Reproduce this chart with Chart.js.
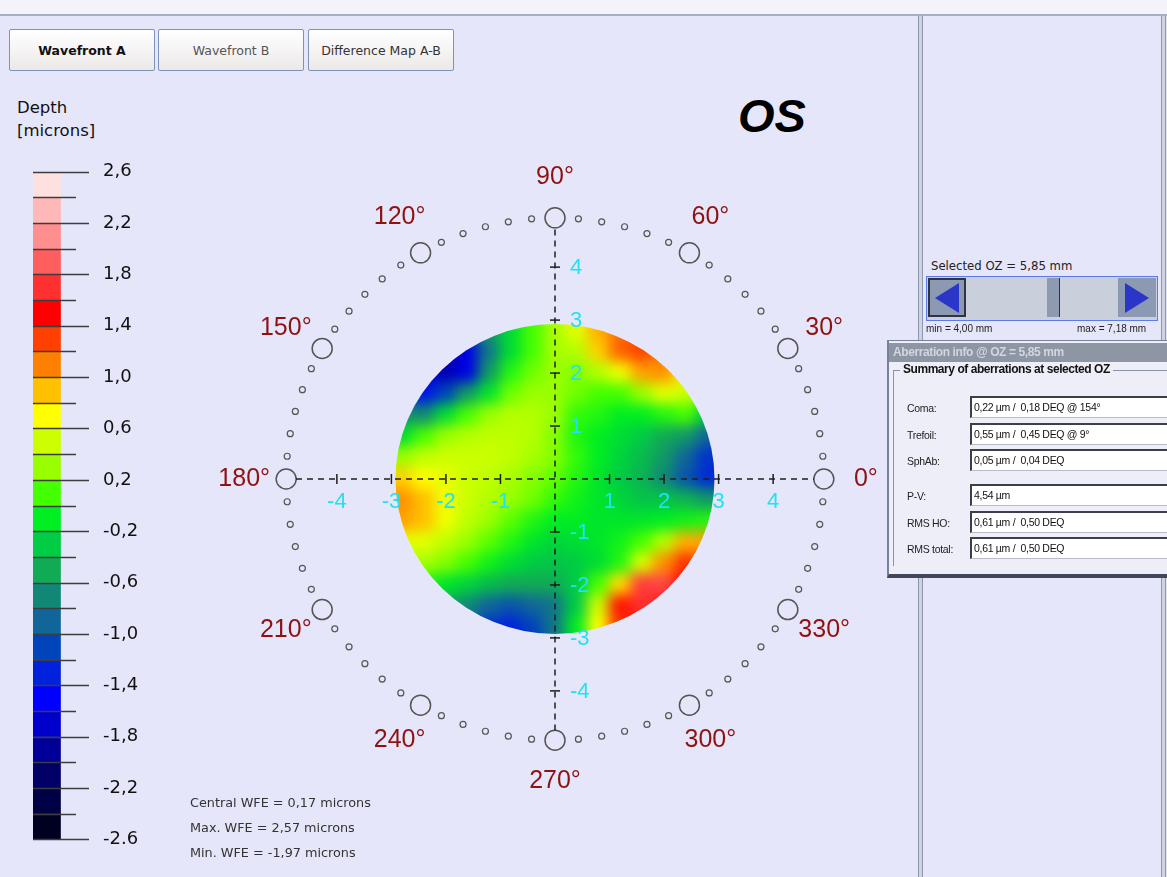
<!DOCTYPE html>
<html>
<head>
<meta charset="utf-8">
<title>Wavefront A</title>
<script src="https://cdn.jsdelivr.net/npm/chart.js@4.4.1/dist/chart.umd.min.js"></script>
<style>
  html, body { margin: 0; padding: 0; }
  body { width: 1167px; height: 877px; background: #E6E6FA; position: relative; overflow: hidden;
         font-family: 'DejaVu Sans', sans-serif; color: #222; }
  .abs { position: absolute; }
  .topband { left: 0; top: 0; width: 1167px; height: 14px; background: #F3F3FB; }
  .topline { left: 0; top: 14px; width: 1167px; height: 2px; background: #A6AEC2; }
  .divider { top: 16px; width: 3px; height: 861px; background: #CED3E0;
             border-left: 1px solid #8D97AE; border-right: 1px solid #8D97AE; }
  .tab { top: 29px; height: 40px; width: 144px; border: 1px solid #7F93B8; border-radius: 2px;
         background: linear-gradient(#FFFFFF, #ECE8E8); font-size: 12.5px; line-height: 41px;
         text-align: center; color: #333; }
  .depth { left: 17px; top: 96px; font-size: 16.5px; line-height: 23px; color: #111; }
  .os { left: 738px; top: 88px; font: italic bold 47px 'Liberation Sans', Arial, sans-serif; color: #000; }
  .stat { left: 190px; font-size: 12.8px; color: #333; }
  .wrap { left: 206px; top: 140px; width: 698px; height: 678px; }
  .mapwrap canvas { filter: blur(7px); }
  .small { font-family: 'Liberation Sans', Arial, sans-serif; }
  .field { left: 970px; width: 200px; height: 19px; background: #FFFFFF;
           border-top: 2px solid #3A3F4A; border-left: 2px solid #3A3F4A; border-bottom: 1px solid #B8BCC8;
           font: 10.5px 'Liberation Sans', Arial, sans-serif; letter-spacing: -0.3px; line-height: 19px;
           padding-left: 2px; color: #111; box-sizing: content-box; }
  .lab { left: 907px; font: 10.5px 'Liberation Sans', Arial, sans-serif; letter-spacing: -0.3px; color: #222; }
</style>
</head>
<body>
<div class="abs topband"></div>
<div class="abs topline"></div>
<div class="abs divider" style="left:918px"></div>
<div class="abs divider" style="left:1161px"></div>

<div class="abs tab" style="left:9px; font-weight:bold; color:#111;">Wavefront A</div>
<div class="abs tab" style="left:158px; color:#555;">Wavefront B</div>
<div class="abs tab" style="left:308px;">Difference Map A-B</div>

<div class="abs depth">Depth<br>[microns]</div>
<div class="abs os">OS</div>

<canvas id="depthBar" class="abs" style="left:0; top:146px;" width="170" height="719"></canvas>

<div id="mapWrap" class="abs wrap mapwrap"><canvas id="mapChart" width="698" height="678"></canvas></div>
<div class="abs wrap"><canvas id="overlayChart" width="698" height="678"></canvas></div>

<div class="abs stat" style="top:795px;">Central WFE = 0,17 microns</div>
<div class="abs stat" style="top:820px;">Max. WFE = 2,57 microns</div>
<div class="abs stat" style="top:845px;">Min. WFE = -1,97 microns</div>

<!-- optical zone selector -->
<div class="abs" style="left:931px; top:259px; font-size:11.7px; color:#222;">Selected OZ = 5,85 mm</div>
<div class="abs" style="left:926px; top:276px; width:230px; height:43px; border:1px solid #5C7BE8; background:#C9D0DC;"></div>
<div class="abs" style="left:928px; top:278px; width:38px; height:39px; background:#8B9AB2; box-sizing:border-box; border:2px solid #2E3440;"></div>
<div class="abs" style="left:935px; top:283px; width:0; height:0; border-top:15px solid transparent; border-bottom:15px solid transparent; border-right:24px solid #2A36C8;"></div>
<div class="abs" style="left:1047px; top:278px; width:12px; height:39px; background:#8D9AB0; border-right:1px solid #333;"></div>
<div class="abs" style="left:1118px; top:278px; width:38px; height:39px; background:#8B9AB2;"></div>
<div class="abs" style="left:1125px; top:283px; width:0; height:0; border-top:15px solid transparent; border-bottom:15px solid transparent; border-left:24px solid #2A36C8;"></div>
<div class="abs small" style="left:926px; top:323px; font-size:10px; color:#222;">min = 4,00 mm</div>
<div class="abs small" style="left:1077px; top:323px; font-size:10px; color:#222;">max = 7,18 mm</div>

<!-- aberration summary box -->
<div class="abs" style="left:887px; top:340px; width:290px; height:233px; background:#EEEEF8; border-left:2px solid #77819A; border-top:1px solid #77819A; border-bottom:4px solid #3F4758;"></div>
<div class="abs" style="left:889px; top:343px; width:290px; height:19px; background:#8E96A6;"></div>
<div class="abs small" style="left:893px; top:345px; font-size:12px; font-weight:bold; color:#D2D6E0; letter-spacing:-0.4px;">Aberration info @ OZ = 5,85 mm</div>
<div class="abs" style="left:893px; top:370px; width:290px; height:195px; border-left:1px solid #8A92A4; border-top:1px solid #8A92A4;"></div>
<div class="abs small" style="left:900px; top:362px; font-size:12px; font-weight:bold; color:#111; background:#EEEEF8; padding:0 3px; letter-spacing:-0.45px;">Summary of aberrations at selected OZ</div>

<div class="abs lab" style="top:402px;">Coma:</div>
<div class="abs lab" style="top:429px;">Trefoil:</div>
<div class="abs lab" style="top:455px;">SphAb:</div>
<div class="abs lab" style="top:490px;">P-V:</div>
<div class="abs lab" style="top:517px;">RMS HO:</div>
<div class="abs lab" style="top:543px;">RMS total:</div>
<div class="abs field" style="top:396px;">0,22 µm /&nbsp; 0,18 DEQ @ 154°</div>
<div class="abs field" style="top:423px;">0,55 µm /&nbsp; 0,45 DEQ @ 9°</div>
<div class="abs field" style="top:449px;">0,05 µm /&nbsp; 0,04 DEQ</div>
<div class="abs field" style="top:484px;">4,54 µm</div>
<div class="abs field" style="top:511px;">0,61 µm /&nbsp; 0,50 DEQ</div>
<div class="abs field" style="top:537px;">0,61 µm /&nbsp; 0,50 DEQ</div>

<script>
// ---- colour scale (depth in microns), top segment first ----
const depthTop = 2.6;
const depthBottom = -2.6;
const depthStep = 0.2;
const depthColors = [
  '#FFE0E0', '#FFB8B8', '#FF8E8E', '#FF5E5E', '#FF3030', '#FF0000', '#FF4000',
  '#FF8000', '#FFC000', '#FFFF00', '#CCFF00', '#99FF00', '#44FF00', '#00EE22',
  '#00CC44', '#11AA55', '#118877', '#116699', '#0044BB', '#0022DD', '#0000FF',
  '#0000CC', '#000099', '#000066', '#000044', '#000022'
];
const depthTickValues = [2.6, 2.2, 1.8, 1.4, 1.0, 0.6, 0.2, -0.2, -0.6, -1.0, -1.4, -1.8, -2.2, -2.6];
const depthTickLabels = ['2,6', '2,2', '1,8', '1,4', '1,0', '0,6', '0,2', '-0,2', '-0,6', '-1,0', '-1,4', '-1,8', '-2,2', '-2.6'];

// ---- wavefront samples (microns) on a 0.4 mm grid ----
const gridU = [-3.2, -2.8, -2.4, -2.0, -1.6, -1.2, -0.8, -0.4, 0, 0.4, 0.8, 1.2, 1.6, 2.0, 2.4, 2.8, 3.2];
const gridV = [3.2, 2.8, 2.4, 2.0, 1.6, 1.2, 0.8, 0.4, 0, -0.4, -0.8, -1.2, -1.6, -2.0, -2.4, -2.8, -3.2];
const wavefront = [
  [-1.6, -1.7, -1.5, -1.1, -0.8, -0.5, -0.1, 0.1, 0.4, 0.6, 0.8, 1.05, 1.15, 1.1, 0.9, 0.8, 0.6],
  [-1.6, -1.7, -1.8, -1.4, -1.0, -0.6, -0.2, 0.1, 0.35, 0.6, 0.95, 1.15, 1.25, 1.1, 0.9, 0.7, 0.6],
  [-1.4, -1.5, -1.7, -1.85, -1.6, -0.8, -0.2, 0.1, 0.35, 0.4, 0.85, 1.2, 1.3, 1.1, 0.85, 0.6, 0.4],
  [-1.2, -1.4, -1.6, -1.8, -1.6, -0.6, 0.0, 0.2, 0.3, 0.25, 0.4, 0.65, 1.0, 1.05, 0.75, 0.5, 0.3],
  [-0.9, -1.1, -1.4, -1.1, -0.6, -0.15, 0.2, 0.3, 0.3, 0.2, 0.1, 0.1, 0.3, 0.6, 0.5, 0.3, 0.1],
  [-0.4, -0.6, -0.7, -0.2, 0.1, 0.3, 0.4, 0.4, 0.3, 0.05, 0.0, -0.1, -0.1, 0.0, 0.1, -0.3, -0.3],
  [-0.2, -0.2, 0.1, 0.3, 0.4, 0.45, 0.45, 0.4, 0.25, 0.0, -0.1, -0.2, -0.3, -0.5, -0.6, -0.9, -0.9],
  [0.4, 0.3, 0.45, 0.5, 0.5, 0.5, 0.45, 0.35, 0.25, 0.05, -0.1, -0.25, -0.4, -0.6, -0.9, -1.2, -1.2],
  [0.85, 0.85, 0.7, 0.6, 0.5, 0.45, 0.35, 0.25, 0.17, 0.0, -0.15, -0.3, -0.45, -0.7, -1.0, -1.25, -1.25],
  [1.1, 1.05, 0.9, 0.65, 0.5, 0.4, 0.3, 0.2, 0.05, -0.05, -0.15, -0.25, -0.35, -0.35, -0.45, -0.6, -0.6],
  [1.0, 1.0, 0.9, 0.65, 0.45, 0.3, 0.15, 0.0, -0.1, -0.1, -0.15, -0.15, -0.15, -0.1, -0.05, 0.0, 0.0],
  [0.5, 0.6, 0.6, 0.45, 0.3, 0.15, 0.0, -0.15, -0.25, -0.2, -0.15, -0.05, 0.1, 0.4, 0.95, 1.0, 0.9],
  [0.4, 0.3, 0.35, 0.25, 0.1, -0.05, -0.2, -0.3, -0.35, -0.3, -0.2, 0.0, 0.55, 1.05, 1.35, 1.2, 1.0],
  [0.2, 0.1, 0.0, -0.15, -0.25, -0.4, -0.5, -0.5, -0.5, -0.3, 0.1, 0.8, 1.75, 1.8, 1.5, 1.3, 1.0],
  [0.1, 0.0, -0.2, -0.5, -0.7, -0.9, -1.0, -0.9, -0.8, -0.3, 0.5, 1.45, 1.7, 1.6, 1.45, 1.3, 1.0],
  [-0.1, -0.2, -0.4, -0.6, -0.9, -1.2, -1.3, -1.1, -0.8, -0.1, 0.7, 1.35, 1.55, 1.5, 1.4, 1.2, 1.0],
  [-0.2, -0.4, -0.6, -0.8, -1.0, -1.2, -1.3, -1.2, -0.8, -0.2, 0.5, 1.2, 1.5, 1.5, 1.4, 1.3, 1.0]
];
const gridStep = 0.4;          // mm
const opticalZone = 5.85;      // mm, selected OZ diameter

// ---- polar frame ----
const rimRadius = 4.93;        // mm
const labelRadius = 5.7;       // mm
const angleLabels = [0, 30, 60, 90, 120, 150, 180, 210, 240, 270, 300, 330];
const axisTicks = [-4, -3, -2, -1, 1, 2, 3, 4];
const axisRange = 6.4;

// colour lookup: stops at the centre of each colour band
function hexToRgb(h) { return [parseInt(h.substr(1, 2), 16), parseInt(h.substr(3, 2), 16), parseInt(h.substr(5, 2), 16)]; }
const colorStops = depthColors.map((c, i) => ({ v: depthTop - depthStep * (i + 0.5), rgb: hexToRgb(c) }));
function depthColor(v) {
  if (v >= colorStops[0].v) return depthColors[0];
  const last = colorStops[colorStops.length - 1];
  if (v <= last.v) return depthColors[depthColors.length - 1];
  for (let i = 0; i < colorStops.length - 1; i++) {
    const a = colorStops[i], b = colorStops[i + 1];
    if (v <= a.v && v >= b.v) {
      const t = (a.v - v) / (a.v - b.v);
      const c = a.rgb.map((ch, k) => Math.round(ch + (b.rgb[k] - ch) * t));
      return `rgb(${c[0]},${c[1]},${c[2]})`;
    }
  }
  return depthColors[0];
}

const baseOptions = () => ({
  responsive: false,
  animation: false,
  events: [],
  layout: { padding: 0, autoPadding: false },
  plugins: { legend: { display: false }, tooltip: { enabled: false } },
  scales: {
    x: { type: 'linear', min: -axisRange, max: axisRange, display: false },
    y: { type: 'linear', min: -axisRange, max: axisRange, display: false }
  }
});

// ---- colour bar ----
const depthSegments = depthColors.map((c, i) => {
  const hi = depthTop - depthStep * i;
  return { lo: hi - depthStep, hi: hi, color: c };
});
const depthTickLines = {
  id: 'depthTickLines',
  afterDatasetsDraw(chart) {
    const { ctx, chartArea } = chart;
    const ys = chart.scales.y;
    const n = Math.round((depthTop - depthBottom) / depthStep);
    ctx.save();
    ctx.strokeStyle = '#3C3C3C';
    ctx.lineWidth = 1.5;
    for (let k = 0; k <= n; k++) {
      const y = Math.round(ys.getPixelForValue(depthTop - depthStep * k)) + 0.5;
      const len = (k % 2 === 0) ? 56 : 43;
      ctx.beginPath();
      ctx.moveTo(chartArea.left, y);
      ctx.lineTo(chartArea.left + len, y);
      ctx.stroke();
    }
    ctx.restore();
  }
};
new Chart(document.getElementById('depthBar'), {
  type: 'bar',
  data: {
    labels: ['', ' '],
    datasets: depthSegments.map(s => ({
      data: [[s.lo, s.hi], null],
      backgroundColor: s.color,
      borderWidth: 0,
      grouped: false,
      barPercentage: 1,
      categoryPercentage: 1
    }))
  },
  options: {
    responsive: false,
    animation: false,
    events: [],
    layout: { padding: { top: 0, bottom: 0, left: 33, right: 0 }, autoPadding: false },
    plugins: { legend: { display: false }, tooltip: { enabled: false } },
    scales: {
      x: { display: false },
      y: {
        position: 'right',
        min: depthBottom,
        max: depthTop,
        afterFit(s) { s.width = 82; },
        afterBuildTicks(s) { s.ticks = depthTickValues.map(v => ({ value: v })); },
        grid: { display: false, drawTicks: false },
        border: { display: false },
        ticks: {
          padding: 15,
          autoSkip: false,
          color: '#111',
          font: { family: 'DejaVu Sans', size: 18 },
          callback: (v, i) => depthTickLabels[i]
        }
      }
    }
  },
  plugins: [depthTickLines]
});

// ---- wavefront map (blurred, clipped to the optical zone) ----
const mapPoints = [];
gridV.forEach((v, i) => gridU.forEach((u, j) => mapPoints.push({ x: u, y: v, w: wavefront[i][j] })));

const zoneClip = {
  id: 'zoneClip',
  afterRender(chart) {
    const xs = chart.scales.x, ys = chart.scales.y;
    const r = opticalZone / 2;
    const cx = xs.getPixelForValue(0), cy = ys.getPixelForValue(0);
    const rx = xs.getPixelForValue(r) - cx, ry = cy - ys.getPixelForValue(r);
    document.getElementById('mapWrap').style.clipPath =
      `ellipse(${rx.toFixed(1)}px ${ry.toFixed(1)}px at ${cx.toFixed(1)}px ${cy.toFixed(1)}px)`;
  }
};
new Chart(document.getElementById('mapChart'), {
  type: 'scatter',
  data: {
    datasets: [{
      data: mapPoints,
      pointStyle: 'rect',
      pointBorderWidth: 0,
      pointRadius(ctx) {
        const xs = ctx.chart.scales.x, ys = ctx.chart.scales.y;
        const side = Math.max(xs.getPixelForValue(gridStep) - xs.getPixelForValue(0),
                              ys.getPixelForValue(0) - ys.getPixelForValue(gridStep)) + 1.5;
        return side / Math.SQRT2;
      },
      pointBackgroundColor(ctx) { return ctx.raw ? depthColor(ctx.raw.w) : '#000'; }
    }]
  },
  options: baseOptions(),
  plugins: [zoneClip]
});

// ---- polar frame, axes and labels ----
const rad = a => a * Math.PI / 180;
const rimMajor = angleLabels.map(a => ({ x: rimRadius * Math.cos(rad(a)), y: rimRadius * Math.sin(rad(a)) }));
const rimMinor = [];
for (let a = 0; a < 360; a += 5) {
  if (a % 30 !== 0) rimMinor.push({ x: rimRadius * Math.cos(rad(a)), y: rimRadius * Math.sin(rad(a)) });
}
const axisEnd = 4.75;

const frameLabels = {
  id: 'frameLabels',
  afterDraw(chart) {
    const { ctx } = chart;
    const xs = chart.scales.x, ys = chart.scales.y;
    ctx.save();
    // angle labels
    ctx.fillStyle = '#8E1212';
    ctx.font = "25px 'Liberation Sans', Arial, sans-serif";
    ctx.textAlign = 'center';
    ctx.textBaseline = 'middle';
    angleLabels.forEach(a => {
      const px = xs.getPixelForValue(labelRadius * Math.cos(rad(a)));
      const py = ys.getPixelForValue(labelRadius * Math.sin(rad(a)));
      ctx.fillText(a + '°', px, py);
    });
    // axis numbers
    ctx.fillStyle = '#20E2F2';
    ctx.font = "22px 'Liberation Sans', Arial, sans-serif";
    axisTicks.forEach(t => {
      ctx.textAlign = 'center';
      ctx.fillText(String(t), xs.getPixelForValue(t), ys.getPixelForValue(0) + 23);
      ctx.textAlign = 'left';
      ctx.fillText(String(t), xs.getPixelForValue(0) + 15, ys.getPixelForValue(t) + 1);
    });
    ctx.restore();
  }
};

const ovOpts = baseOptions();
ovOpts.clip = false;
new Chart(document.getElementById('overlayChart'), {
  type: 'scatter',
  data: {
    datasets: [
      { type: 'line', data: [{ x: -axisEnd, y: 0 }, { x: axisEnd, y: 0 }], borderColor: '#1E1E1E',
        borderWidth: 1.5, borderDash: [6, 5], pointRadius: 0 },
      { type: 'line', data: [{ x: 0, y: -axisEnd }, { x: 0, y: axisEnd }], borderColor: '#1E1E1E',
        borderWidth: 1.5, borderDash: [6, 5], pointRadius: 0 },
      { data: axisTicks.map(t => ({ x: t, y: 0 })), pointStyle: 'line', rotation: 90, pointRadius: 5,
        borderColor: '#1E1E1E', pointBorderWidth: 1.5 },
      { data: axisTicks.map(t => ({ x: 0, y: t })), pointStyle: 'line', rotation: 0, pointRadius: 5,
        borderColor: '#1E1E1E', pointBorderWidth: 1.5 },
      { data: rimMajor, pointStyle: 'circle', pointRadius: 10, pointBackgroundColor: 'rgba(0,0,0,0)',
        pointBorderColor: '#555', pointBorderWidth: 1.5 },
      { data: rimMinor, pointStyle: 'circle', pointRadius: 3, pointBackgroundColor: 'rgba(0,0,0,0)',
        pointBorderColor: '#555', pointBorderWidth: 1.2 }
    ]
  },
  options: ovOpts,
  plugins: [frameLabels]
});
</script>
</body>
</html>
